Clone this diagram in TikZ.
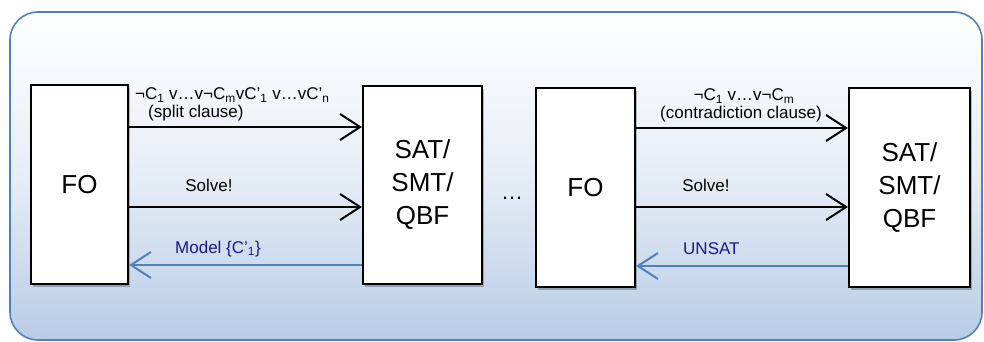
\documentclass[tikz,border=0pt]{standalone}
\usepackage{fontspec}
\setmainfont{Liberation Sans}
\usetikzlibrary{arrows.meta,shadows}
\definecolor{frameblue}{RGB}{79,129,189}
\definecolor{bgblue}{RGB}{184,204,230}
\definecolor{linkblue}{RGB}{79,129,189}
\definecolor{labelblue}{RGB}{25,25,140}
\tikzset{
  blockbox/.style={draw=black, line width=2.2pt, fill=white, inner sep=0pt,
    drop shadow={shadow xshift=2pt, shadow yshift=-3pt, opacity=0.25, fill=black}},
  blocktext/.style={font=\fontsize{26}{33}\selectfont, align=center},
  fwdarrow/.style={draw=black, line width=2pt, -{Straight Barb[length=20pt,width=26pt,line width=2pt]}},
  backarrow/.style={draw=linkblue, line width=2pt, -{Straight Barb[length=20pt,width=26pt,line width=2pt]}},
  lbl/.style={font=\fontsize{17}{20}\selectfont, inner sep=0pt},
  bluelbl/.style={lbl, text=labelblue},
}
\begin{document}
\begin{tikzpicture}[x=1pt,y=-1pt]
\useasboundingbox (0,0) rectangle (984,342);
% container
\path[shade, top color=white, bottom color=bgblue, middle color=white!65!bgblue, rounded corners=28pt]
  (10,12) rectangle (982,340);
\draw[frameblue, line width=1.6pt, rounded corners=28pt] (10,12) rectangle (982,340);

% blocks
\node[blockbox, minimum width=97pt, minimum height=199pt, blocktext] (fo1) at (79.5,184.5) {FO};
\node[blockbox, minimum width=119pt, minimum height=198pt, blocktext] (sat1) at (422.5,185) {SAT/\\SMT/\\QBF};
\node[blockbox, minimum width=99pt, minimum height=199pt, blocktext] (fo2) at (585.5,187.5) {FO};
\node[blockbox, minimum width=121pt, minimum height=199pt, blocktext] (sat2) at (909.5,187.5) {SAT/\\SMT/\\QBF};
\node[font=\fontsize{22}{26}\selectfont] (dots) at (512,198) {…};

% left pair arrows
\draw[fwdarrow] ([yshift=57.5pt]fo1.east) -- ([yshift=57.5pt]fo1.east -| sat1.west);
\draw[fwdarrow] ([yshift=-22.5pt]fo1.east) -- ([yshift=-22.5pt]fo1.east -| sat1.west);
\draw[backarrow] ([yshift=-80pt]sat1.west) -- ([yshift=-80pt]sat1.west -| fo1.east);

% right pair arrows
\draw[fwdarrow] ([yshift=59.5pt]fo2.east) -- ([yshift=59.5pt]fo2.east -| sat2.west);
\draw[fwdarrow] ([yshift=-19.5pt]fo2.east) -- ([yshift=-19.5pt]fo2.east -| sat2.west);
\draw[backarrow] ([yshift=-78.5pt]sat2.west) -- ([yshift=-78.5pt]sat2.west -| fo2.east);

% left labels
\node[lbl, anchor=west] (split1) at (135,95) {¬C\textsubscript{1} v…v¬C\textsubscript{m}vC’\textsubscript{1} v…vC’\textsubscript{n}};
\node[lbl, anchor=west] (split2) at (148,113) {(split clause)};
\node[lbl] (solve1) at (209,185) {Solve!};
\node[bluelbl, anchor=west] (model) at (175,249) {Model \{C’\textsubscript{1}\}};

% right labels
\node[lbl] (contr1) at (744,96) {¬C\textsubscript{1} v…v¬C\textsubscript{m}};
\node[lbl] (contr2) at (741,114) {(contradiction clause)};
\node[lbl] (solve2) at (706,185) {Solve!};
\node[bluelbl, anchor=west] (unsat) at (683,249) {UNSAT};
\end{tikzpicture}
\end{document}
